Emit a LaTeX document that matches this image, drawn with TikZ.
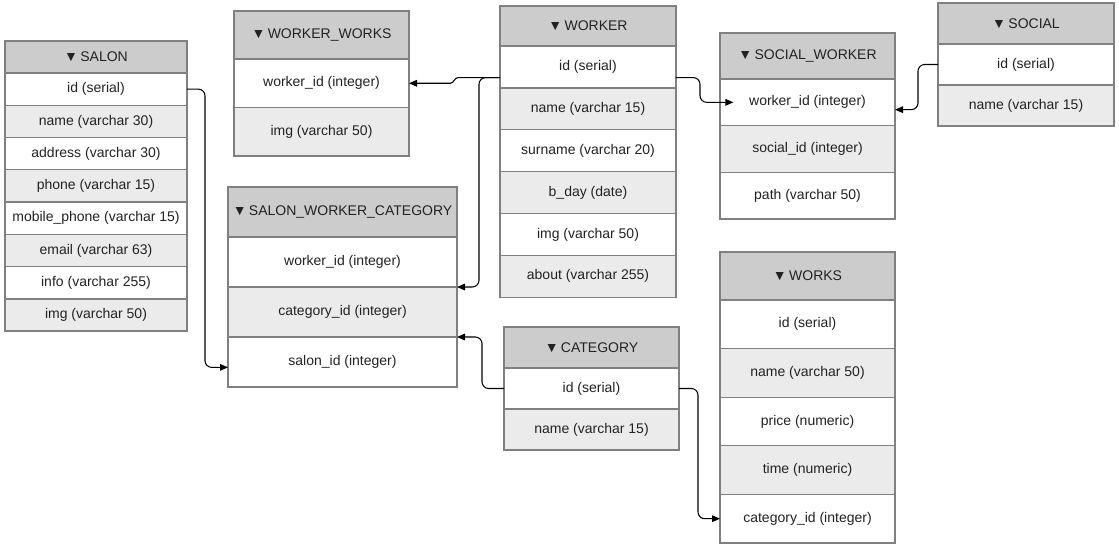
\documentclass[tikz,border=0pt]{standalone}
\usepackage{fontspec}
\setmainfont{Liberation Sans}
\usetikzlibrary{positioning,arrows.meta}
\definecolor{headgray}{HTML}{CCCCCC}
\definecolor{rowgray}{HTML}{EBEBEB}
\definecolor{linegray}{HTML}{808080}
\definecolor{txt}{HTML}{222222}
\newcommand{\hdarrow}{▼\,}
\tikzset{
  cell/.style={draw=linegray, line width=1pt, inner sep=0pt, outer sep=0pt, text=txt, font=\fontsize{10.5}{12}\selectfont},
  hd/.style={cell, fill=headgray},
  wr/.style={cell, fill=white},
  gr/.style={cell, fill=rowgray},
  fk/.style={-{Triangle[length=6pt,width=5pt]}, line width=0.8pt, rounded corners=5pt}
}
\begin{document}
\begin{tikzpicture}[x=0.75pt,y=-0.75pt]
\useasboundingbox (0,0) rectangle (1119,547);

% SALON table
\begin{scope}[nodes={minimum width=136.5pt, minimum height=24.2pt}]
\node[hd, anchor=north west, minimum height=24pt] (salon) at (5,41) {\hdarrow SALON};
\node[wr, below=0pt of salon] (salon-id) {id (serial)};
\node[gr, below=0pt of salon-id] (salon-name) {name (varchar 30)};
\node[wr, below=0pt of salon-name] (salon-addr) {address (varchar 30)};
\node[gr, below=0pt of salon-addr] (salon-phone) {phone (varchar 15)};
\node[wr, below=0pt of salon-phone] (salon-mob) {mobile\_phone (varchar 15)};
\node[gr, below=0pt of salon-mob] (salon-mail) {email (varchar 63)};
\node[wr, below=0pt of salon-mail] (salon-info) {info (varchar 255)};
\node[gr, below=0pt of salon-info] (salon-img) {img (varchar 50)};
\end{scope}

% WORKER_WORKS table
\begin{scope}[nodes={minimum width=131.25pt, minimum height=36.4pt}]
\node[hd, anchor=north west, minimum height=36pt] (ww) at (234,11) {\hdarrow WORKER\_WORKS};
\node[wr, below=0pt of ww] (ww-wid) {worker\_id (integer)};
\node[gr, below=0pt of ww-wid] (ww-img) {img (varchar 50)};
\end{scope}

% SALON_WORKER_CATEGORY table
\begin{scope}[nodes={minimum width=171.75pt, minimum height=37.5pt}]
\node[hd, anchor=north west] (swc) at (228,187) {\hdarrow SALON\_WORKER\_CATEGORY};
\node[wr, below=0pt of swc] (swc-wid) {worker\_id (integer)};
\node[gr, below=0pt of swc-wid] (swc-cat) {category\_id (integer)};
\node[wr, below=0pt of swc-cat] (swc-sal) {salon\_id (integer)};
\end{scope}

% WORKER table
\begin{scope}[nodes={minimum width=132pt, minimum height=31.4pt}]
\node[hd, anchor=north west, minimum height=30pt] (wkr) at (500,6) {\hdarrow WORKER};
\node[wr, below=0pt of wkr] (wkr-id) {id (serial)};
\node[gr, below=0pt of wkr-id] (wkr-name) {name (varchar 15)};
\node[wr, below=0pt of wkr-name] (wkr-sur) {surname (varchar 20)};
\node[gr, below=0pt of wkr-sur] (wkr-bday) {b\_day (date)};
\node[wr, below=0pt of wkr-bday] (wkr-img) {img (varchar 50)};
\node[gr, below=0pt of wkr-img] (wkr-about) {about (varchar 255)};
\end{scope}

% SOCIAL_WORKER table
\begin{scope}[nodes={minimum width=131.25pt, minimum height=35pt}]
\node[hd, anchor=north west, minimum height=34.5pt] (sw) at (720,33) {\hdarrow SOCIAL\_WORKER};
\node[wr, below=0pt of sw] (sw-wid) {worker\_id (integer)};
\node[gr, below=0pt of sw-wid] (sw-sid) {social\_id (integer)};
\node[wr, below=0pt of sw-sid] (sw-path) {path (varchar 50)};
\end{scope}

% SOCIAL table
\begin{scope}[nodes={minimum width=132pt, minimum height=30.75pt}]
\node[hd, anchor=north west] (soc) at (938,3) {\hdarrow SOCIAL};
\node[wr, below=0pt of soc] (soc-id) {id (serial)};
\node[gr, below=0pt of soc-id] (soc-name) {name (varchar 15)};
\end{scope}

% WORKS table
\begin{scope}[nodes={minimum width=131.25pt, minimum height=36.45pt}]
\node[hd, anchor=north west, minimum height=36pt] (wks) at (720,252) {\hdarrow WORKS};
\node[wr, below=0pt of wks] (wks-id) {id (serial)};
\node[gr, below=0pt of wks-id] (wks-name) {name (varchar 50)};
\node[wr, below=0pt of wks-name] (wks-price) {price (numeric)};
\node[gr, below=0pt of wks-price] (wks-time) {time (numeric)};
\node[wr, below=0pt of wks-time] (wks-cat) {category\_id (integer)};
\end{scope}

% CATEGORY table
\begin{scope}[nodes={minimum width=131.25pt, minimum height=30.75pt}]
\node[hd, anchor=north west] (cat) at (504,327) {\hdarrow CATEGORY};
\node[wr, below=0pt of cat] (cat-id) {id (serial)};
\node[gr, below=0pt of cat-id] (cat-name) {name (varchar 15)};
\end{scope}

% Foreign keys
\draw[fk] (salon-id.east) -- ++(18,0) |- ([yshift=-4pt]swc-sal.west);
\draw[fk, sharp corners] ([yshift=-8pt]wkr-id.west) -- ++(-42,0) to[out=180,in=0] ([xshift=31pt]ww-wid.east) -- (ww-wid.east);
\draw[fk] ([yshift=-8pt]wkr-id.west) -- ++(-21,0) |- (swc-wid.south east);
\draw[fk] ([yshift=-8pt]wkr-id.east) -- ++(24,0) |- ([xshift=10pt]sw-wid.west);
\draw[fk] (soc-id.west) -- ++(-20,0) |- ([yshift=-5.5pt]sw-wid.east);
\draw[fk] (cat-id.west) -- ++(-22,0) |- (swc-sal.north east);
\draw[fk] (cat-id.east) -- ++(19,0) |- (wks-cat.west);

\end{tikzpicture}
\end{document}
